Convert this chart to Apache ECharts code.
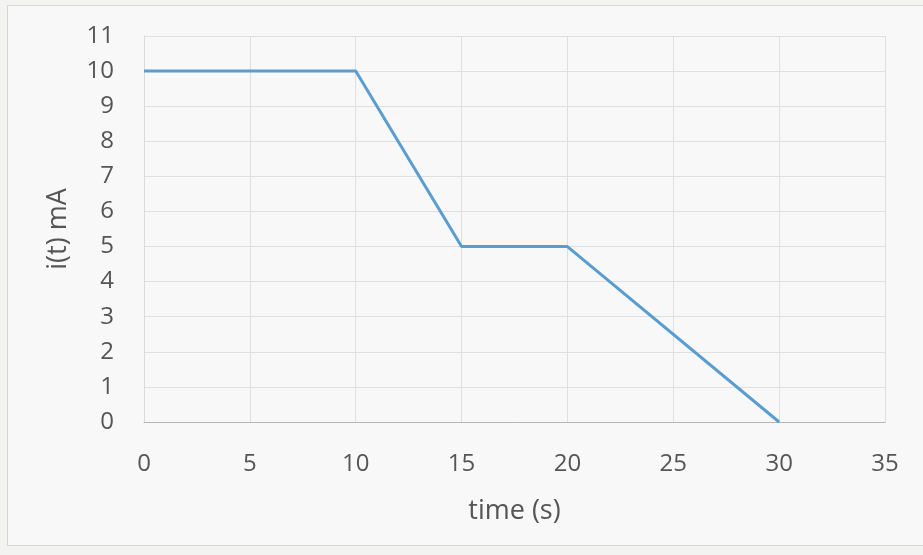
<!DOCTYPE html>
<html><head><meta charset="utf-8">
<script src="https://cdn.jsdelivr.net/npm/echarts@6/dist/echarts.min.js"></script>
<style>
html,body{margin:0;padding:0;background:#f3f4f2;}
#frame{position:absolute;left:7px;top:5px;width:916px;height:541px;border:1px solid #d6d7d5;border-right:none;background:#f7f8f7;box-sizing:border-box;}
#c{position:absolute;left:0;top:0;width:923px;height:555px;}
</style></head>
<body>
<div id="frame"></div>
<div id="c"></div>
<script>
const timeValues = [0, 10, 15, 20, 30];
const currentValues = [10, 10, 5, 5, 0];
const xTicks = [0, 5, 10, 15, 20, 25, 30, 35];
const yTicks = [0,1,2,3,4,5,6,7,8,9,10,11];

const chart = echarts.init(document.getElementById('c'), null, {renderer:'canvas'});
const font = '"Open Sans", "Noto Sans", sans-serif';
chart.setOption({
  backgroundColor: 'transparent',
  animation: false,
  grid: {left: 144, right: 38, top: 36, bottom: 133},
  xAxis: {
    type: 'value', min: xTicks[0], max: xTicks[xTicks.length-1], interval: 5,
    name: 'time (s)', nameLocation: 'middle', nameGap: 76,
    nameTextStyle: {fontFamily: font, fontSize: 27, color: '#555555'},
    axisLine: {show: true, lineStyle: {color: '#b5b5b5', width: 1}},
    axisTick: {show: false},
    axisLabel: {fontFamily: font, fontSize: 24, color: '#555555', margin: 30},
    splitLine: {show: true, lineStyle: {color: '#dfe0de', width: 1}}
  },
  yAxis: {
    type: 'value', min: yTicks[0], max: yTicks[yTicks.length-1], interval: 1,
    name: 'i(t) mA', nameLocation: 'middle', nameGap: 72, nameRotate: 90,
    nameTextStyle: {fontFamily: font, fontSize: 27, color: '#555555'},
    axisLine: {show: true, lineStyle: {color: '#dadbd9', width: 1}},
    axisTick: {show: false},
    axisLabel: {fontFamily: font, fontSize: 24, color: '#555555', margin: 30},
    splitLine: {show: true, lineStyle: {color: '#dfe0de', width: 1}}
  },
  series: [{
    type: 'line',
    data: timeValues.map((t, i) => [t, currentValues[i]]),
    showSymbol: false,
    symbol: 'none',
    lineStyle: {color: '#5a9dd1', width: 3},
    itemStyle: {color: '#5a9dd1'}
  }]
});
</script>
</body></html>
